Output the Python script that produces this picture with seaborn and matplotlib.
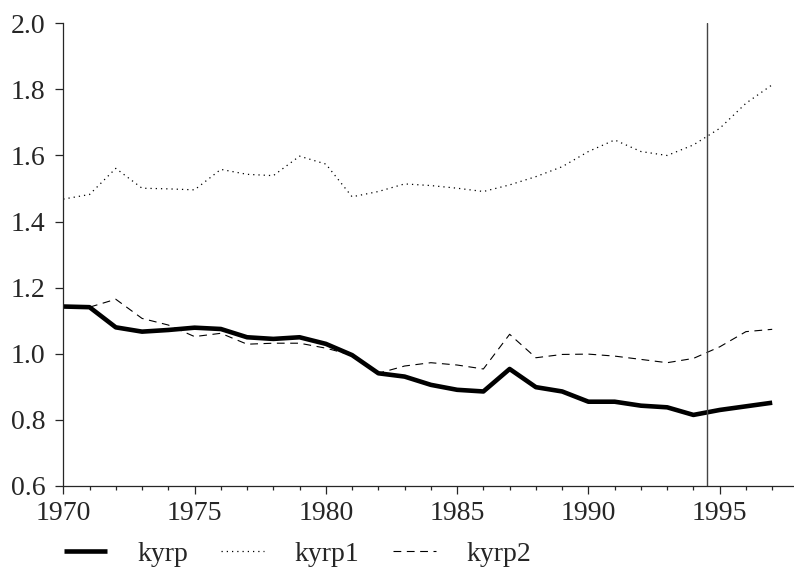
import pandas as pd
import matplotlib.pyplot as plt
import seaborn as sns
from matplotlib.ticker import MultipleLocator

# ============================================
# DATA
# ============================================

years = list(range(1970, 1998))

kyrp = [1.143, 1.141, 1.080, 1.067, 1.072, 1.079, 1.075, 1.050, 1.045, 1.050,
        1.030, 0.996, 0.941, 0.931, 0.906, 0.891, 0.886, 0.954, 0.899, 0.886,
        0.855, 0.855, 0.843, 0.838, 0.815, 0.830, 0.841, 0.852]

kyrp1 = [1.468, 1.482, 1.561, 1.501, 1.499, 1.496, 1.558, 1.543, 1.539, 1.598,
         1.574, 1.475, 1.491, 1.514, 1.509, 1.501, 1.491, 1.511, 1.536, 1.566,
         1.612, 1.647, 1.612, 1.600, 1.632, 1.682, 1.758, 1.814]

kyrp2 = [1.143, 1.141, 1.165, 1.107, 1.087, 1.052, 1.062, 1.029, 1.032, 1.032,
         1.017, 0.996, 0.941, 0.963, 0.973, 0.966, 0.954, 1.059, 0.988, 0.998,
         0.999, 0.993, 0.983, 0.973, 0.986, 1.021, 1.067, 1.074]

marker_year = 1994.5

# ============================================
# PLOT
# ============================================

sns.set_style("ticks")
plt.rcParams['font.family'] = ['Liberation Serif', 'DejaVu Serif']

df = pd.DataFrame({'year': years, 'kyrp': kyrp, 'kyrp1': kyrp1, 'kyrp2': kyrp2})

fig = plt.figure(figsize=(7.94, 5.68), dpi=100)
ax = fig.add_axes([0.0797, 0.1444, 0.9193, 0.8146])

sns.lineplot(data=df, x='year', y='kyrp', ax=ax, color='black', linewidth=3.3,
             solid_capstyle='butt', label='kyrp')
sns.lineplot(data=df, x='year', y='kyrp1', ax=ax, color='black', linewidth=0.9,
             linestyle=(0, (1, 3.2)), label='kyrp1')
sns.lineplot(data=df, x='year', y='kyrp2', ax=ax, color='black', linewidth=0.8,
             linestyle=(0, (7, 5)), label='kyrp2')

ax.axvline(marker_year, color='#444444', linewidth=1.0)

ax.set_xlim(1970, 1997.8)
ax.set_ylim(0.6, 2.0)
ax.xaxis.set_major_locator(MultipleLocator(5))
ax.xaxis.set_minor_locator(MultipleLocator(1))
ax.yaxis.set_major_locator(MultipleLocator(0.2))
ax.yaxis.set_major_formatter(plt.FormatStrFormatter('%.1f'))
ax.set_xlabel('')
ax.set_ylabel('')

ax.tick_params(axis='both', which='major', length=6, width=0.9, labelsize=20,
               direction='out')
ax.tick_params(axis='x', which='major', pad=5)
ax.tick_params(axis='y', which='major', pad=7)
ax.tick_params(axis='x', which='minor', length=3, width=0.9, direction='out')
for lbl in ax.get_xticklabels() + ax.get_yticklabels():
    lbl.set_family('Liberation Serif')
for s in ['left', 'bottom']:
    ax.spines[s].set_linewidth(0.9)
sns.despine(ax=ax)

handles, labels = ax.get_legend_handles_labels()
ax.get_legend().remove()
fig.legend(handles, labels, loc='center left', bbox_to_anchor=(0.066, 0.025),
           ncol=3, frameon=False, prop={'family': 'Liberation Serif', 'size': 20},
           handlelength=1.55, handletextpad=1.1, columnspacing=1.2,
           borderaxespad=0)

fig.savefig('out.png', dpi=100)
